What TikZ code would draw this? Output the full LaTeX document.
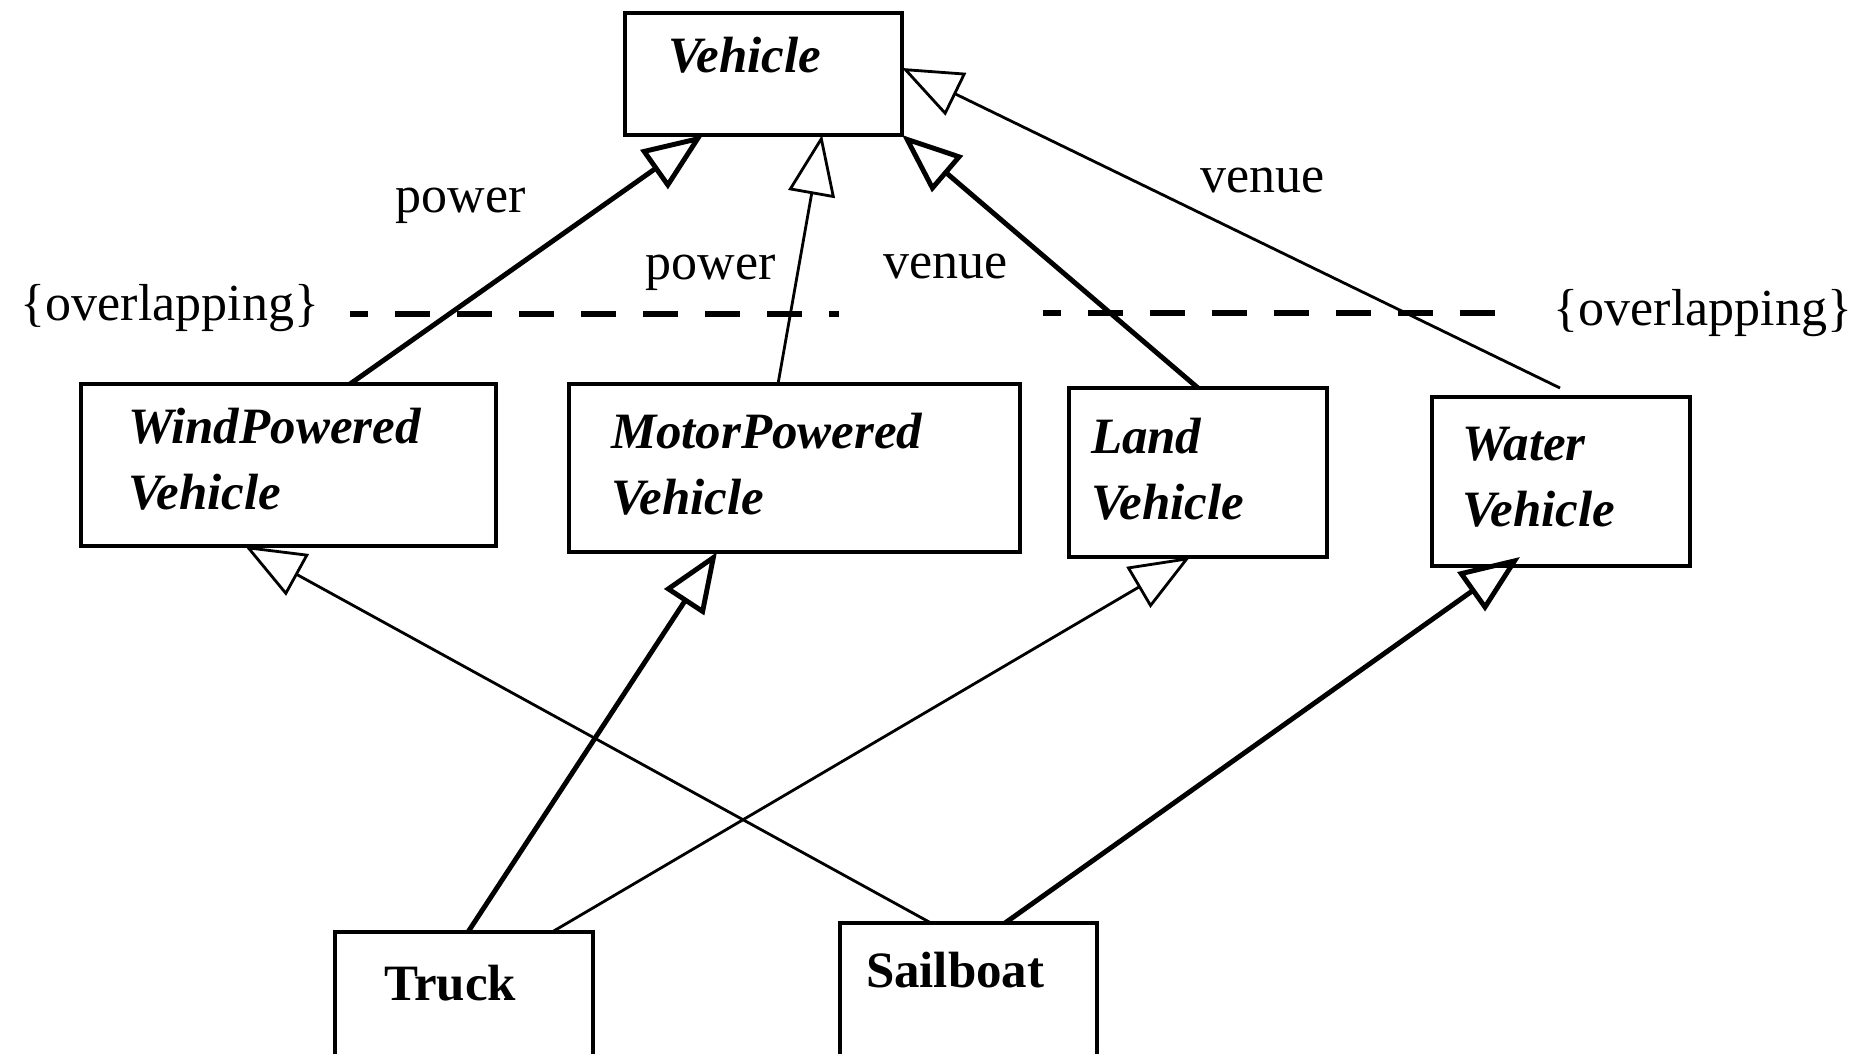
\documentclass[tikz,border=0pt]{standalone}
\usepackage{fontspec}
\setmainfont{Liberation Serif}
\usetikzlibrary{arrows.meta}

\begin{document}
\begin{tikzpicture}[
    cls/.style={draw, line width=1.4pt, outer sep=0pt, inner ysep=0pt, anchor=north west, align=left, font=\fontsize{14.5}{19}\selectfont\bfseries\itshape},
    leaf/.style={cls, font=\fontsize{14.5}{19}\selectfont\bfseries},
    lbl/.style={inner sep=0pt, anchor=base west, font=\fontsize{14.8}{18}\selectfont},
    gen/.style={-{Triangle[open, length=0.6cm, width=0.47cm]}, line width=0.8pt},
    genthick/.style={gen, line width=1.4pt},
    sep/.style={line width=1.6pt, dash pattern=on 0.35cm off 0.27cm, dash phase=0.17cm}
]
    \useasboundingbox (0,0) rectangle (18.62,-10.53);

    % Superclass
    \node[cls, text width=1.91cm, inner xsep=0.43cm, text height=0.59cm, text depth=0.63cm] (veh) at (6.25,-0.13) {Vehicle};

    % Subclasses
    \node[cls, text width=3.21cm, inner xsep=0.47cm, text height=0.59cm, text depth=1.03cm] (wind) at (0.81,-3.84) {WindPowered\\Vehicle};
    \node[cls, text width=3.67cm, inner xsep=0.42cm, text height=0.64cm, text depth=1.04cm] (motor) at (5.69,-3.84) {MotorPowered\\Vehicle};
    \node[cls, text width=2.14cm, inner xsep=0.22cm, text height=0.65cm, text depth=1.04cm] (land) at (10.69,-3.88) {Land\\Vehicle};
    \node[cls, text width=1.98cm, inner xsep=0.30cm, text height=0.63cm, text depth=1.06cm] (water) at (14.32,-3.97) {Water\\Vehicle};

    % Leaf classes
    \node[leaf, text width=1.60cm, inner xsep=0.49cm, text height=0.68cm, text depth=0.82cm] (truck) at (3.35,-9.32) {Truck};
    \node[leaf, text width=2.05cm, inner xsep=0.26cm, text height=0.64cm, text depth=0.86cm] (sail) at (8.40,-9.23) {Sailboat};

    % Discriminator labels
    \node[lbl] (pw1) at (3.95,-2.12) {power};
    \node[lbl] (pw2) at (6.45,-2.79) {power};
    \node[lbl] (vn1) at (8.83,-2.78) {venue};
    \node[lbl] (vn2) at (12.00,-1.92) {venue};
    \node[lbl] (ovl1) at (0.20,-3.20) {\{overlapping\}};
    \node[lbl] (ovl2) at (15.53,-3.25) {\{overlapping\}};

    % Generalization set lines
    \coordinate (s1a) at (3.50,-3.14);
    \coordinate (s1b) at (8.39,-3.14);
    \coordinate (s2a) at (10.43,-3.13);
    \coordinate (s2b) at (15.18,-3.13);
    \draw[sep] (s1a) -- (s1b);
    \draw[sep] (s2a) -- (s2b);

    % Generalizations to Vehicle
    \draw[genthick] ([xshift=2.69cm]wind.north west) -- ([xshift=0.78cm]veh.south west);
    \draw[gen] ([xshift=2.09cm]motor.north west) -- ([xshift=1.97cm]veh.south west);
    \draw[genthick] ([xshift=1.29cm]land.north west) -- (veh.south east);
    \draw[gen] ([xshift=1.28cm,yshift=0.09cm]water.north west) -- ([yshift=-0.55cm]veh.north east);

    % Generalizations of the leaves
    \draw[gen] ([xshift=0.91cm]sail.north west) -- ([xshift=1.64cm]wind.south west);
    \draw[genthick] ([xshift=1.33cm]truck.north west) -- ([xshift=1.48cm]motor.south west);
    \draw[gen] ([xshift=2.17cm]truck.north west) -- ([xshift=1.21cm]land.south west);
    \draw[genthick] ([xshift=1.65cm]sail.north west) -- ([xshift=0.88cm,yshift=0.09cm]water.south west);
\end{tikzpicture}
\end{document}
